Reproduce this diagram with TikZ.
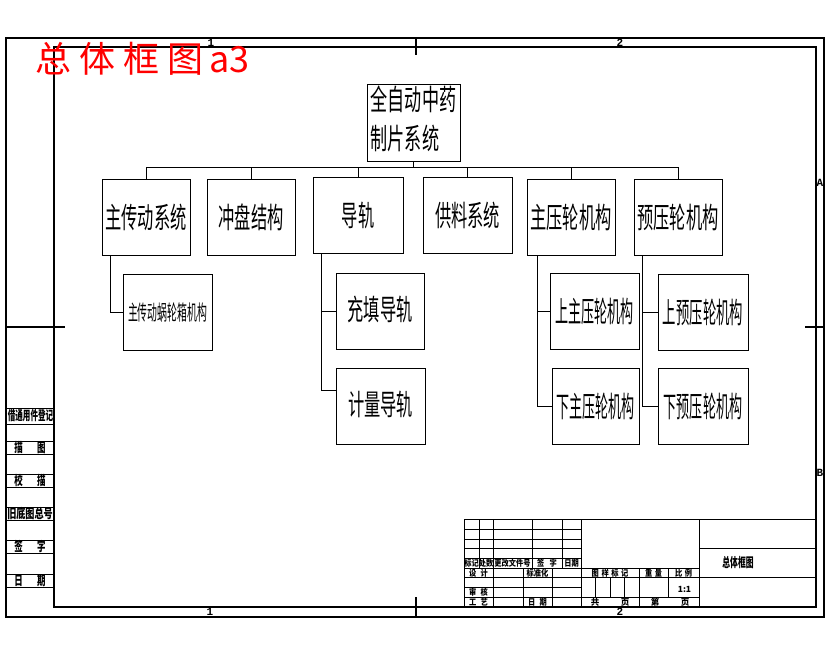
\documentclass[tikz,border=0pt]{standalone}
\usepackage{fontspec}
\newfontfamily\cjk{Noto Sans CJK SC}
\newfontfamily\zonefont{Liberation Mono}
\newcommand\sq[2]{\scalebox{#1}[1]{#2}}
\begin{document}
\begin{tikzpicture}[x=1pt,y=-1pt,
  frame/.style={line width=1.1pt},
  thinl/.style={line width=0.8pt},
  box/.style={draw, line width=0.9pt, inner sep=0pt, font=\cjk\fontsize{29}{31}\selectfont},
  link/.style={line width=0.9pt},
  tb/.style={inner sep=0pt, font=\cjk\bfseries\fontsize{8.5}{9}\selectfont},
  side/.style={inner sep=0pt, font=\cjk\bfseries\fontsize{13}{14}\selectfont},
  zone/.style={inner sep=0pt, font=\zonefont\bfseries\fontsize{11}{11}\selectfont}]
\useasboundingbox (0,0) rectangle (830,654);
% frame
\draw[frame] (6,38) rectangle (824,617);
\draw[frame] (54,47) rectangle (816,607);
\draw[frame] (416,38) -- (416,55);
\draw[frame] (416,597) -- (416,617);
\draw[frame] (6,327) -- (65,327);
\draw[frame] (805,327) -- (824,327);
\node[zone] (z1) at (211,42.5) {1};
\node[zone] (z2) at (620,42.5) {2};
\node[zone] (z3) at (210,612) {1};
\node[zone] (z4) at (620,612) {2};
\node[zone] (za) at (820,183) {A};
\node[zone] (zb) at (820,473) {B};
% left column
\foreach \a/\b in {408/424,441/454,474/487,507/520,540/553,574/587}{
  \draw[thinl] (6,\a) -- (54,\a);
  \draw[thinl] (6,\b) -- (54,\b);
}
\node[side] (s1) at (30.5,416) {\sq{0.58}{借通用件登记}};
\node[side] (s2) at (30,447.5) {\sq{0.65}{描\hspace{22pt}图}};
\node[side] (s3) at (30,480.5) {\sq{0.65}{校\hspace{22pt}描}};
\node[side] (s4) at (30,513.5) {\sq{0.7}{旧底图总号}};
\node[side] (s5) at (30,546.5) {\sq{0.65}{签\hspace{22pt}字}};
\node[side] (s6) at (30,580.5) {\sq{0.65}{日\hspace{22pt}期}};
% red title
\node[anchor=base west, text=red, inner sep=0pt, font=\cjk\fontsize{36}{36}\selectfont] (title) at (35,72) {总\hspace{8pt}体\hspace{8pt}框\hspace{8pt}图\hspace{6pt}a3};
% title block
\draw[thinl] (464,519.5) -- (816,519.5);
\foreach \y in {529.2,538.9,548.7,558.4,568.1,577.8,587.5,597.3}
  \draw[thinl] (464,\y) -- (581,\y);
\foreach \y in {568.1,577.8,597.3}
  \draw[thinl] (581,\y) -- (699,\y);
\foreach \y in {548.7,577.8}
  \draw[thinl] (699,\y) -- (816,\y);
\foreach \x in {464,581,699}
  \draw[thinl] (\x,519.5) -- (\x,607);
\foreach \x in {479,493,532,562}
  \draw[thinl] (\x,519.5) -- (\x,568.1);
\foreach \x in {493,523,552}
  \draw[thinl] (\x,568.1) -- (\x,607);
\draw[thinl] (639,568.1) -- (639,607);
\draw[thinl] (668,568.1) -- (668,597.3);
\foreach \x in {595.5,610,624.5}
  \draw[thinl] (\x,577.8) -- (\x,597.3);
\node[tb] (b1) at (471.5,563.3) {\sq{0.85}{标记}};
\node[tb] (b2) at (486,563.3) {\sq{0.85}{处数}};
\node[tb] (b3) at (512.5,563.3) {\sq{0.85}{更改文件号}};
\node[tb] (b4) at (547,563.3) {\sq{0.85}{签\hspace{6pt}字}};
\node[tb] (b5) at (571.5,563.3) {\sq{0.85}{日期}};
\node[tb] (b6) at (478.5,573) {\sq{0.85}{设\hspace{5pt}计}};
\node[tb] (b7) at (537.5,573) {\sq{0.85}{标准化}};
\node[tb] (b8) at (478.5,592.4) {\sq{0.85}{审\hspace{5pt}核}};
\node[tb] (b9) at (478.5,602) {\sq{0.85}{工\hspace{5pt}艺}};
\node[tb] (b10) at (537.5,602) {\sq{0.85}{日\hspace{5pt}期}};
\node[tb] (b11) at (610,573) {\sq{0.85}{图\hspace{3pt}样\hspace{3pt}标\hspace{3pt}记}};
\node[tb] (b12) at (653.5,573) {\sq{0.85}{重\hspace{3pt}量}};
\node[tb] (b13) at (683.5,573) {\sq{0.85}{比\hspace{3pt}例}};
\node[tb] (b14) at (684.5,589) {1:1};
\node[tb] (b15) at (595,602) {共};
\node[tb] (b16) at (625,602) {页};
\node[tb] (b17) at (655,602) {第};
\node[tb] (b18) at (685,602) {页};
\node[inner sep=0pt, font=\cjk\bfseries\fontsize{13}{13}\selectfont] (b19) at (738,563) {\sq{0.6}{总体框图}};
% tree
\node[box, minimum width=93pt, minimum height=77pt] (root) at (413.5,122.5)
  {\sq{0.59}{\begin{tabular}{@{}l@{}}全自动中药\\[5pt]制片系统\end{tabular}}};
\node[box, minimum width=88pt, minimum height=76pt] (n1) at (146,217) {\sq{0.56}{主传动系统}};
\node[box, minimum width=88pt, minimum height=76pt] (n2) at (251,217) {\sq{0.56}{冲盘结构}};
\node[box, minimum width=90pt, minimum height=76pt] (n3) at (358,215) {\sq{0.56}{导轨}};
\node[box, minimum width=89pt, minimum height=76pt] (n4) at (467.5,215) {\sq{0.56}{供料系统}};
\node[box, minimum width=88pt, minimum height=76pt] (n5) at (571,217) {\sq{0.56}{主压轮机构}};
\node[box, minimum width=88pt, minimum height=76pt] (n6) at (678,217) {\sq{0.56}{预压轮机构}};
\node[box, minimum width=89pt, minimum height=76pt, font=\cjk\fontsize{21}{23}\selectfont] (c1) at (167.5,312) {\sq{0.47}{主传动蜗轮箱机构}};
\node[box, minimum width=88pt, minimum height=76pt] (c2) at (380,311) {\raisebox{5pt}{\sq{0.56}{充填导轨}}};
\node[box, minimum width=89pt, minimum height=76pt] (c3) at (380.5,406) {\raisebox{6pt}{\sq{0.56}{计量导轨}}};
\node[box, minimum width=89pt, minimum height=76pt] (c4) at (594.5,311) {\sq{0.45}{上主压轮机构}};
\node[box, minimum width=87pt, minimum height=76pt] (c5) at (595.5,406) {\sq{0.45}{下主压轮机构}};
\node[box, minimum width=90pt, minimum height=76pt] (c6) at (703,312) {\sq{0.46}{上预压轮机构}};
\node[box, minimum width=90pt, minimum height=76pt] (c7) at (703,406) {\sq{0.45}{下预压轮机构}};
\coordinate (busy) at (0,167);
\draw[link] (root.south) -- (root.south |- busy);
\draw[link] (n1.north) -- (n1.north |- busy) -- (n6.north |- busy) -- (n6.north);
\foreach \n in {n2,n3,n4,n5} \draw[link] (\n.north) -- (\n.north |- busy);
\draw[link] ([xshift=9pt]n1.south west) |- (c1.west);
\draw[link] ([xshift=9pt]n3.south west) |- (c2.west);
\draw[link] ([xshift=9pt]n3.south west) |- ([yshift=16pt]c3.west);
\draw[link] ([xshift=11pt]n5.south west) |- (c4.west);
\draw[link] ([xshift=11pt]n5.south west) |- (c5.west);
\draw[link] ([xshift=9pt]n6.south west) |- (c6.west);
\draw[link] ([xshift=9pt]n6.south west) |- (c7.west);
\end{tikzpicture}
\end{document}
